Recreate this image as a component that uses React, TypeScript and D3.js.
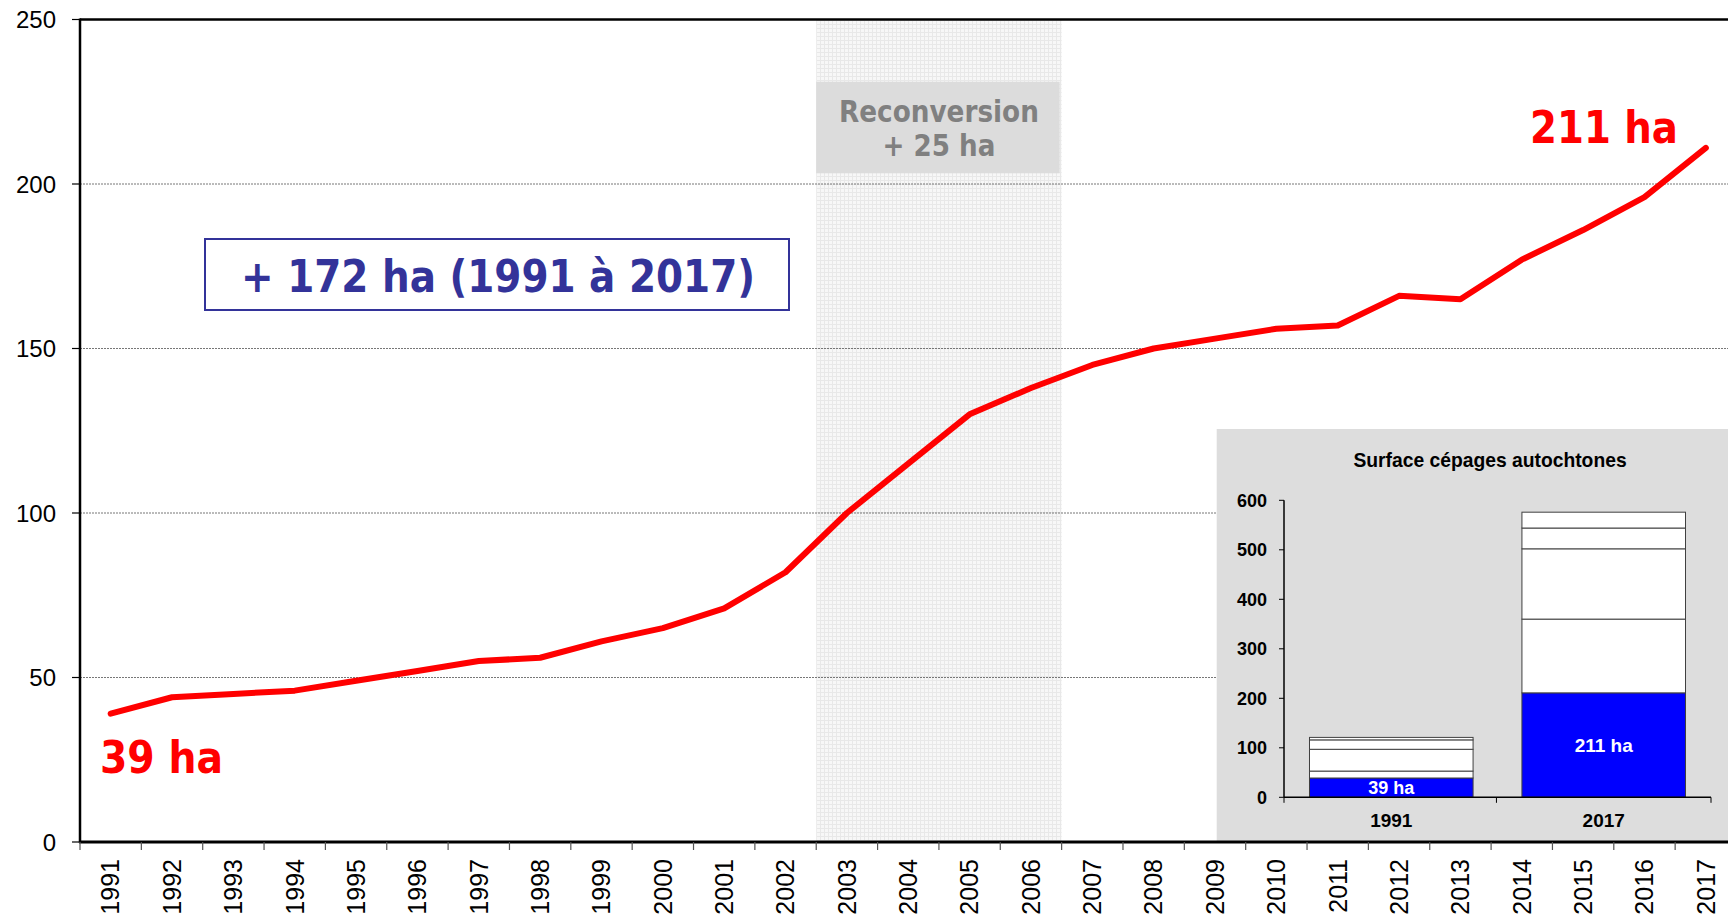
import React from "react";
import * as d3 from "d3";

const years = [1991,1992,1993,1994,1995,1996,1997,1998,1999,2000,2001,2002,2003,2004,2005,2006,2007,2008,2009,2010,2011,2012,2013,2014,2015,2016,2017];
const surface = [39,44,45,46,49,52,55,56,61,65,71,82,100,115,130,138,145,150,153,156,157,166,165,177,186,196,211];
const yTicks = [0,50,100,150,200,250];
const gridTicks = [50,100,150,200];
const reconvStart = 2003;
const reconvEnd = 2006;

const insetCats = ["1991","2017"];
const insetSeg1991 = [39,14,44,19,5];
const insetSeg2017 = [211,149,142,42,32];
const insetTicks = [0,100,200,300,400,500,600];
const insetLabels = ["39 ha","211 ha"];

const W = 1728, H = 920;

export default function App() {
  const x = d3.scaleBand<number>().domain(years).range([80, 1736.5]).padding(0);
  const y = d3.scaleLinear().domain([0, 250]).range([842, 19.5]);
  const cx = (yr: number) => (x(yr) as number) + x.bandwidth() / 2;
  const line = d3.line<number>().x((_, i) => cx(years[i])).y((d) => y(d));

  const ix = d3.scaleBand<string>().domain(insetCats).range([1284, 1711]).paddingInner(0.23).paddingOuter(0.12);
  const iy = d3.scaleLinear().domain([0, 600]).range([797.3, 500.3]);
  const segs = [insetSeg1991, insetSeg2017];

  const shadeX0 = x(reconvStart) as number;
  const shadeX1 = (x(reconvEnd) as number) + x.bandwidth();

  const bold = "'DejaVu Sans', Verdana, sans-serif";
  const arial = "'Liberation Sans', Arial, sans-serif";

  return (
    <svg width={W} height={H} style={{ position: "fixed", left: 0, top: 0, background: "#fff" }}>
      <defs>
        <pattern id="hatch" width="4" height="4" patternUnits="userSpaceOnUse">
          <rect width="4" height="4" fill="#f7f7f7" />
          <line x1="0" y1="0.5" x2="4" y2="0.5" stroke="#e8e8e8" strokeWidth="1" />
          <line x1="0.5" y1="0" x2="0.5" y2="4" stroke="#e8e8e8" strokeWidth="1" />
        </pattern>
      </defs>
      <rect width={W} height={H} fill="#fff" />
      {/* shaded reconversion period */}
      <rect x={shadeX0} y={y(250)} width={shadeX1 - shadeX0} height={y(0) - y(250)} fill="url(#hatch)" />
      {/* gridlines */}
      {gridTicks.map((t) => (
        <line key={t} x1={80} x2={W} y1={y(t)} y2={y(t)} stroke="#777" strokeWidth={1} strokeDasharray="2 1" />
      ))}
      {/* reconversion box */}
      <rect x={shadeX0} y={81.7} width={shadeX1 - shadeX0 - 2} height={91.6} fill="#dcdcdc" />
      <text x={(shadeX0 + shadeX1) / 2} y={121.7} textAnchor="middle" fontFamily={bold} fontWeight="bold" fontSize={30} fill="#808080" textLength={200} lengthAdjust="spacingAndGlyphs">Reconversion</text>
      <text x={(shadeX0 + shadeX1) / 2} y={155.7} textAnchor="middle" fontFamily={bold} fontWeight="bold" fontSize={30} fill="#808080" textLength={113} lengthAdjust="spacingAndGlyphs">+ 25 ha</text>

      {/* total box */}
      <rect x={205} y={239} width={584} height={71} fill="#fff" stroke="#333399" strokeWidth={2} />
      <text x={498} y={291.5} textAnchor="middle" fontFamily={bold} fontWeight="bold" fontSize={45} fill="#333399" textLength={514} lengthAdjust="spacingAndGlyphs">+ 172 ha (1991 à 2017)</text>

      {/* inset panel */}
      <rect x={1216.7} y={429} width={W - 1216.7} height={841 - 429} fill="#dddddd" />
      <text x={1490} y={466.7} textAnchor="middle" fontFamily={arial} fontWeight="bold" fontSize={19.3} fill="#000">Surface cépages autochtones</text>
      {segs.map((s, ci) => {
        const cat = insetCats[ci];
        const bx = ix(cat) as number;
        const stacked = d3.cumsum(s);
        return (
          <g key={cat}>
            {s.map((v, i) => {
              const top = stacked[i];
              const bottom = top - v;
              return (
                <rect key={i} x={bx} width={ix.bandwidth()} y={iy(top)} height={iy(bottom) - iy(top)}
                  fill={i === 0 ? "#0000ff" : "#ffffff"} stroke="#404040" strokeWidth={1} />
              );
            })}
            <text x={bx + ix.bandwidth() / 2} y={(iy(0) + iy(s[0])) / 2 + 6.5} textAnchor="middle" fontFamily={arial} fontWeight="bold" fontSize={ci === 0 ? 18 : 19} fill="#fff">{insetLabels[ci]}</text>
          </g>
        );
      })}
      <line x1={1284} x2={1284} y1={iy(600)} y2={iy(0)} stroke="#000" strokeWidth={1.5} />
      <line x1={1284} x2={1711} y1={iy(0)} y2={iy(0)} stroke="#000" strokeWidth={1.5} />
      {insetTicks.map((t) => (
        <g key={t}>
          <line x1={1279} x2={1284} y1={iy(t)} y2={iy(t)} stroke="#000" strokeWidth={1} />
          <text x={1267} y={iy(t) + 6.3} textAnchor="end" fontFamily={arial} fontWeight="bold" fontSize={18} fill="#000">{t}</text>
        </g>
      ))}
      {[1284, 1284 + ix.step(), 1711].map((tx, i) => (
        <line key={i} x1={tx} x2={tx} y1={iy(0)} y2={iy(0) + 5.5} stroke="#000" strokeWidth={1} />
      ))}
      {insetCats.map((c) => (
        <text key={c} x={(ix(c) as number) + ix.bandwidth() / 2} y={827.3} textAnchor="middle" fontFamily={arial} fontWeight="bold" fontSize={19} fill="#000">{c}</text>
      ))}

      {/* data line */}
      <path d={line(surface) || ""} fill="none" stroke="#ff0000" strokeWidth={6} strokeLinejoin="round" strokeLinecap="round" />

      {/* annotations */}
      <text x={1530} y={143.3} fontFamily={bold} fontWeight="bold" fontSize={44} fill="#ff0000" textLength={148} lengthAdjust="spacingAndGlyphs">211 ha</text>
      <text x={100} y={772.7} fontFamily={bold} fontWeight="bold" fontSize={45} fill="#ff0000" textLength={123} lengthAdjust="spacingAndGlyphs">39 ha</text>

      {/* frame and axes */}
      <line x1={80} x2={W} y1={19.5} y2={19.5} stroke="#000" strokeWidth={2.5} />
      <line x1={80} x2={80} y1={18.5} y2={843} stroke="#000" strokeWidth={2.5} />
      <line x1={79} x2={W} y1={842} y2={842} stroke="#000" strokeWidth={3} />
      {yTicks.map((t) => (
        <g key={t}>
          <line x1={72} x2={80} y1={y(t)} y2={y(t)} stroke="#000" strokeWidth={1.2} />
          <text x={56} y={y(t) + 8.5} textAnchor="end" fontFamily={arial} fontSize={24} fill="#000">{t}</text>
        </g>
      ))}
      {years.map((yr) => (
        <line key={yr} x1={x(yr) as number} x2={x(yr) as number} y1={842} y2={850} stroke="#555" strokeWidth={1.2} />
      ))}
      {years.map((yr) => (
        <text key={yr} transform={`translate(${cx(yr) + 8.8},${859}) rotate(-90)`} textAnchor="end" fontFamily={arial} fontSize={25} fill="#000">{yr}</text>
      ))}
    </svg>
  );
}
